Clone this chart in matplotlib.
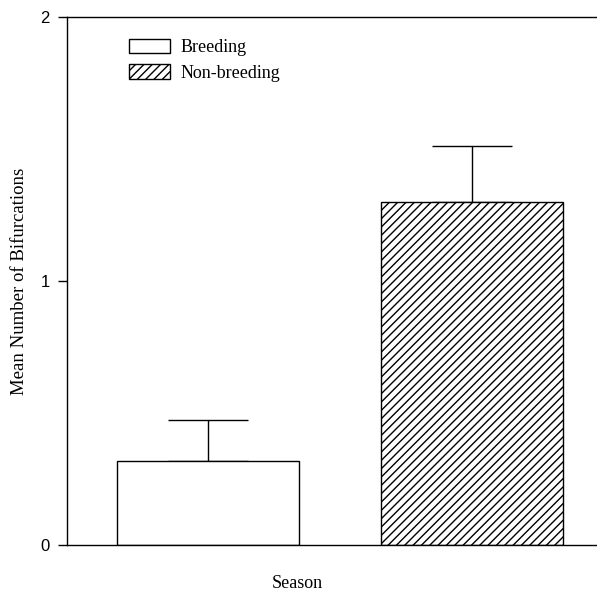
import matplotlib
matplotlib.use("Agg")
import matplotlib.pyplot as plt
from matplotlib.patches import Patch

seasons = ["Breeding", "Non-breeding"]
means = [0.318, 1.30]
errors = [0.155, 0.21]
hatches = ["", "////"]
yticks = [0, 1, 2]

serif = "Liberation Serif"
sans = "Liberation Sans"

fig = plt.figure(figsize=(5.97, 5.95), dpi=100)
ax = fig.add_axes([67 / 597, 50 / 595, 530 / 597, 528 / 595])

x = range(len(seasons))
for i in x:
    ax.bar(i, means[i], width=0.69, color="white", edgecolor="black",
           linewidth=1.0, hatch=hatches[i], zorder=2)
    ax.errorbar(i, means[i], yerr=[[0], [errors[i]]], fmt="none",
                ecolor="black", elinewidth=1.0, capsize=29, capthick=1.0,
                zorder=1)

ax.set_xlim(-0.534, 1.473)
ax.set_ylim(0, 2)
ax.set_yticks(yticks)
ax.set_yticklabels([str(t) for t in yticks], fontfamily=sans, fontsize=12)
ax.set_xticks([])
ax.tick_params(axis="y", direction="out", length=6.5, width=1.0, pad=6)

ax.spines["right"].set_visible(False)
for s in ["left", "top", "bottom"]:
    ax.spines[s].set_linewidth(1.0)

ax.set_ylabel("Mean Number of Bifurcations", fontfamily=serif, fontsize=13.5,
              labelpad=9)
fig.text(297 / 597, 1 - 584 / 595, "Season", fontfamily=serif, fontsize=13,
         ha="center", va="center")

handles = [Patch(facecolor="white", edgecolor="black", hatch=h, label=s)
           for s, h in zip(seasons, hatches)]
ax.legend(handles=handles, loc="upper left", bbox_to_anchor=(0.087, 0.99),
          frameon=False, prop={"family": serif, "size": 13},
          handlelength=2.27, handleheight=0.85, handletextpad=0.55,
          labelspacing=0.45)

fig.savefig("out.png", dpi=100)
